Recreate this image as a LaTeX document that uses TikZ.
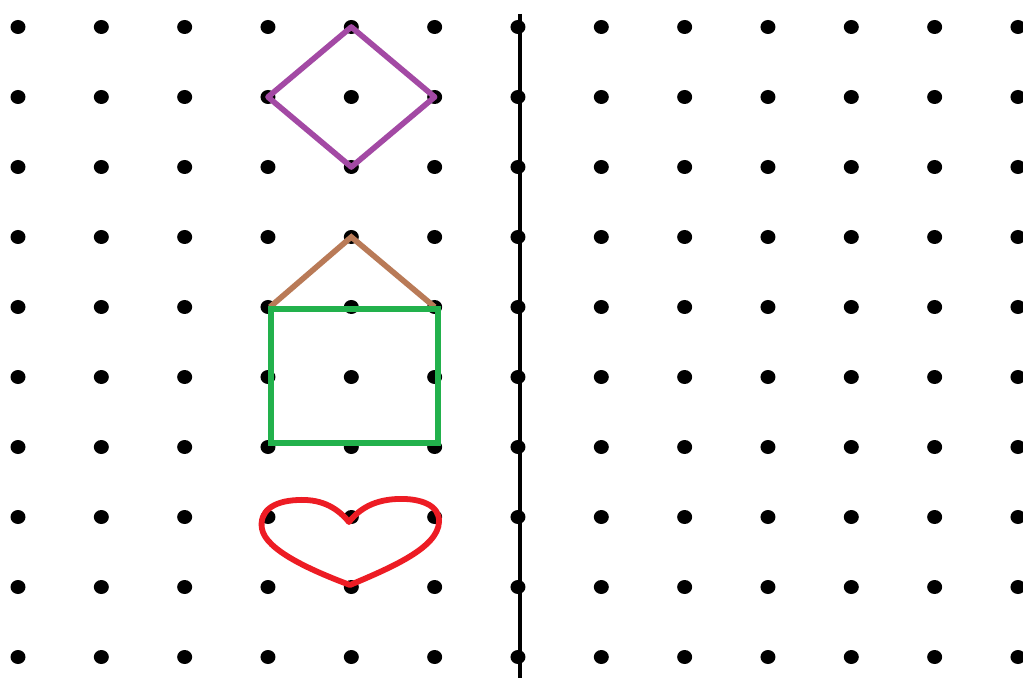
\documentclass[tikz,border=0pt]{standalone}
\usepackage{tikz}
\usetikzlibrary{calc}
\definecolor{dpurple}{HTML}{A349A4}
\definecolor{dbrown}{HTML}{B97A57}
\definecolor{dgreen}{HTML}{22B14C}
\definecolor{dred}{HTML}{ED1C24}
\tikzset{
  shapeline/.style={line width=3.2pt, line join=miter, line cap=round},
  dotmark/.style={fill=black}
}
\begin{document}
\begin{tikzpicture}[x=0.02cm,y=-0.02cm]
\useasboundingbox (0,0) rectangle (1023,678);
\fill[white] (0,0) rectangle (1023,678);
% grid coordinates and dots
\foreach \i in {0,...,9}{
  \foreach \j in {0,...,12}{
    \coordinate (p-\j-\i) at ({18+83.33*\j},{27+70*\i});
    \fill[dotmark] (p-\j-\i) ellipse [x radius=7.5, y radius=7];
  }
}
% mirror line
\coordinate (lt) at (520,14);
\coordinate (lb) at (520,680);
\draw[line width=2.4pt] (lt) -- (lb);
% purple diamond
\draw[shapeline, dpurple, line join=round] (p-4-0) -- (p-5-1) -- (p-4-2) -- (p-3-1) -- cycle;
% brown roof
\draw[shapeline, dbrown, line cap=butt] ($(p-3-4)+(2,0)$) -- (p-4-3) -- (p-5-4);
% green rectangle
\draw[shapeline, dgreen, line width=3.8pt, line join=miter] (271,309) rectangle (438,443);
% red heart
\draw[shapeline, dred, line width=3.3pt, line join=round]
  (349,522) .. controls (335,505) and (318,499) .. (298,500)
  .. controls (272,501) and (259,512) .. (262,529)
  .. controls (266,550) and (310,570) .. (350,585)
  .. controls (390,568) and (438,548) .. (439,522)
  .. controls (440,505) and (420,498) .. (397,499)
  .. controls (375,500) and (360,508) .. (349,522) -- cycle;
\end{tikzpicture}
\end{document}
